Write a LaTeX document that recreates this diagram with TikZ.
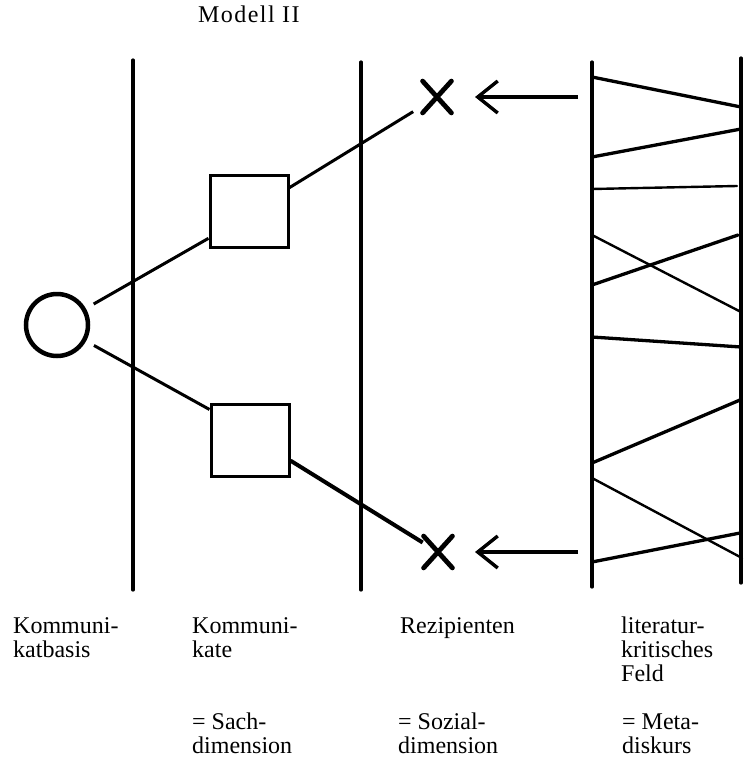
\documentclass[tikz,border=0pt]{standalone}
\usepackage{fontspec}
\setmainfont{Liberation Serif}
\usetikzlibrary{arrows.meta,shapes.misc}
\begin{document}
\begin{tikzpicture}[x=1pt,y=-1pt,
  sepline/.style={line width=3.2pt,line cap=round},
  field/.style={line width=3.3pt,line cap=round},
  thinfield/.style={line width=2.4pt,line cap=round},
  box/.style={draw,line width=3pt,minimum width=78pt,minimum height=72pt,inner sep=0pt},
  basis/.style={draw,circle,line width=4.5pt,minimum size=62pt,inner sep=0pt},
  crossmark/.style={draw,cross out,line width=4.8pt,line cap=round,minimum width=24pt,minimum height=27pt,inner sep=0pt},
  link/.style={line width=3pt},
  arr/.style={line width=3.4pt,-{Straight Barb[length=20pt,width=32pt]}},
  lbl/.style={anchor=base west,align=left,inner sep=0pt,font=\fontsize{24}{24}\selectfont}]
\useasboundingbox (0,0) rectangle (745,760);
\fill[white] (0,0) rectangle (745,760);

% separating lines
\coordinate (s1t) at (133,60);  \coordinate (s1b) at (133,590);
\coordinate (s2t) at (361,62);  \coordinate (s2b) at (361,590);
\coordinate (s3t) at (592,62);  \coordinate (s3b) at (592,587);
\coordinate (s4t) at (741,58);  \coordinate (s4b) at (741,583);
\draw[sepline] (s1t) -- (s1b);
\draw[sepline] (s2t) -- (s2b);
\draw[sepline] (s3t) -- (s3b);
\draw[sepline] (s4t) -- (s4b);

% field lines
\draw[field] (592,77) -- (741,107);
\draw[field] (592,157) -- (741,129);
\draw[thinfield] (592,189) -- (737,186);
\draw[thinfield] (592,235) -- (741,312);
\draw[field] (592,285) -- (738,235);
\draw[field] (592,337) -- (741,347);
\draw[field] (592,463) -- (740,400);
\draw[thinfield] (592,478) -- (742,558);
\draw[field] (592,562) -- (740,533);

% nodes
\node[basis] (kb) at (57,325) {};
\node[box] (k1) at (249,211) {};
\node[box] (k2) at (250,440) {};
\node[crossmark] (r1) at (437,97) {};
\node[crossmark] (r2) at (438,552) {};

% connectors
\draw[link, shorten <=9pt] (kb) -- (k1.214);
\draw[link, shorten <=9pt] (kb) -- (k2.143);
\draw[link, shorten >=28pt] (k1.30) -- (r1.center);
\draw[link, line width=4pt, shorten >=18pt] (k2.333) -- (r2.center);

\coordinate (f1) at (578,97);
\coordinate (f2) at (578,552);
\draw[arr, shorten >=38pt] (f1) -- (r1.center);
\draw[arr, shorten >=37pt] (f2) -- (r2.center);

% labels (base anchor = baseline of the last line)
\node[lbl,font=\fontsize{24}{24}\selectfont\addfontfeatures{LetterSpace=6}] (title) at (198,23) {Modell II};
\node[lbl] (l1) at (13,657) {Kommuni-\\katbasis};
\node[lbl] (l2) at (192,657) {Kommuni-\\kate};
\node[lbl] (l3) at (400,633) {Rezipienten};
\node[lbl] (l4) at (621,681) {literatur-\\kritisches\\Feld};
\node[lbl] (d2) at (192,753) {= Sach-\\dimension};
\node[lbl] (d3) at (398,753) {= Sozial-\\dimension};
\node[lbl] (d4) at (622,753) {= Meta-\\diskurs};
\end{tikzpicture}
\end{document}
